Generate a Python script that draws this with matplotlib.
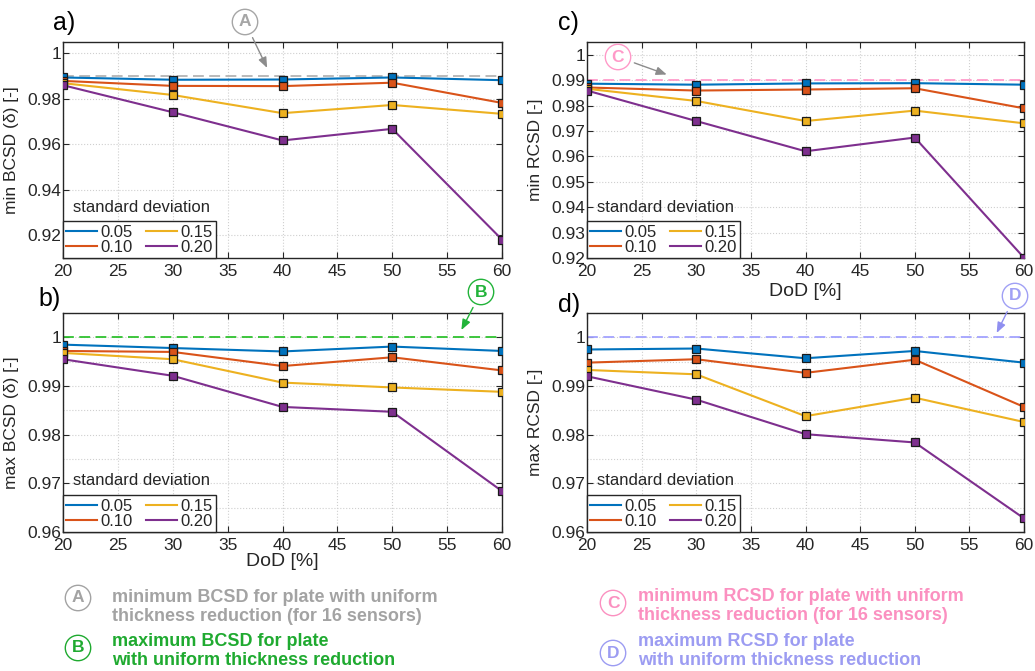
import matplotlib
matplotlib.use('Agg')
import matplotlib.pyplot as plt
from matplotlib.ticker import MultipleLocator, FuncFormatter
from matplotlib.lines import Line2D

plt.rcParams['font.family'] = ['Liberation Sans', 'DejaVu Sans']

# DoD [%]
dod = [20, 30, 40, 50, 60]
sd_labels = ['0.05', '0.10', '0.15', '0.20']
sd_colors = ['#0072BD', '#D95319', '#EDB120', '#7E2F8E']

# a) min BCSD, one row per standard deviation
min_bcsd = [
    [0.9894, 0.9884, 0.9885, 0.9894, 0.9882],
    [0.9879, 0.9857, 0.9856, 0.9871, 0.9782],
    [0.9869, 0.9817, 0.9737, 0.9773, 0.9734],
    [0.9860, 0.9741, 0.9617, 0.9668, 0.9181],
]
# b) max BCSD
max_bcsd = [
    [0.9985, 0.9978, 0.9971, 0.9981, 0.9972],
    [0.9972, 0.9970, 0.9941, 0.9959, 0.9932],
    [0.9968, 0.9955, 0.9907, 0.9897, 0.9888],
    [0.9955, 0.9921, 0.9857, 0.9847, 0.9684],
]
# c) min RCSD
min_rcsd = [
    [0.9886, 0.9882, 0.9887, 0.9888, 0.9882],
    [0.9871, 0.9859, 0.9863, 0.9868, 0.9789],
    [0.9866, 0.9818, 0.9739, 0.9780, 0.9730],
    [0.9859, 0.9739, 0.9620, 0.9674, 0.9201],
]
# d) max RCSD
max_rcsd = [
    [0.9975, 0.9977, 0.9957, 0.9972, 0.9948],
    [0.9948, 0.9955, 0.9927, 0.9954, 0.9857],
    [0.9933, 0.9924, 0.9838, 0.9876, 0.9826],
    [0.9920, 0.9872, 0.9801, 0.9784, 0.9628],
]

# plate with uniform thickness reduction
uniform_min_bcsd = 0.99
uniform_max_bcsd = 1.0
uniform_min_rcsd = 0.99
uniform_max_rcsd = 1.0

W, H = 1035, 671
fig = plt.figure(figsize=(W / 100, H / 100), dpi=100)


def fx(px):
    return px / W


def fy(py):
    return 1 - py / H


def rect(left, top, right, bottom):
    return [fx(left), fy(bottom), fx(right) - fx(left), fy(top) - fy(bottom)]


ax_a = fig.add_axes(rect(63, 42, 502, 258))
ax_c = fig.add_axes(rect(587, 42, 1024, 258))
ax_b = fig.add_axes(rect(63, 313, 502, 532))
ax_d = fig.add_axes(rect(587, 313, 1024, 532))

edge = '#262626'
fmt = FuncFormatter(lambda v, pos: f'{v:g}')


def draw_panel(ax, values, ref, ref_color, ylim, ystep, ylabel, minor=None):
    ax.axhline(ref, color=ref_color, ls=(0, (6, 3)), lw=1.3, zorder=1)
    for vals, lab, col in zip(values, sd_labels, sd_colors):
        ax.plot(dod, vals, color=col, lw=1.5, marker='s', ms=6.3,
                mfc=col, mec='#1a1a1a', mew=0.9, label=lab, zorder=3)
    ax.set_xlim(20, 60)
    ax.set_ylim(*ylim)
    ax.xaxis.set_major_locator(MultipleLocator(5))
    ax.yaxis.set_major_locator(MultipleLocator(ystep))
    ax.yaxis.set_major_formatter(fmt)
    if minor:
        ax.yaxis.set_minor_locator(MultipleLocator(minor))
        ax.grid(True, which='minor', axis='y', color='#cfcfcf', ls=':', lw=0.8)
    ax.grid(True, which='major', color='#cfcfcf', ls=':', lw=0.8)
    ax.set_axisbelow(True)
    ax.tick_params(which='major', direction='in', top=True, right=True,
                   length=4, width=0.8, color=edge, labelsize=12.5,
                   labelcolor=edge)
    ax.tick_params(axis='y', pad=1.5)
    ax.tick_params(axis='x', pad=4)
    ax.tick_params(which='minor', length=0)
    for s in ax.spines.values():
        s.set_color(edge)
        s.set_linewidth(1.0)
    ax.set_ylabel(ylabel, fontsize=12.5, color=edge)
    ax.yaxis.set_label_coords(-0.100, 0.5)

    handles = [Line2D([], [], color=c, lw=1.5) for c in sd_colors]
    leg = ax.legend(handles, sd_labels, ncol=2, loc='lower left',
                    bbox_to_anchor=(0, 0), borderaxespad=0, fontsize=12,
                    frameon=True, fancybox=False, edgecolor=edge,
                    framealpha=1, handlelength=1.85, handletextpad=0.2,
                    columnspacing=0.8, labelspacing=0.0, borderpad=0.2)
    leg.get_frame().set_linewidth(1.0)
    for t in leg.get_texts():
        t.set_color(edge)
    leg.set_zorder(5)
    ax.text(0.022, 0.2, 'standard deviation', transform=ax.transAxes,
            fontsize=12, color=edge, ha='left', va='bottom', zorder=6)


draw_panel(ax_a, min_bcsd, uniform_min_bcsd, '#b4b4b4', (0.91, 1.005), 0.02,
           'min BCSD (\u03b4) [-]')
draw_panel(ax_b, max_bcsd, uniform_max_bcsd, '#2fc22f', (0.96, 1.005), 0.01,
           'max BCSD (\u03b4) [-]', minor=0.005)
draw_panel(ax_c, min_rcsd, uniform_min_rcsd, '#ff9ccb', (0.92, 1.005), 0.01,
           'min RCSD [-]')
draw_panel(ax_d, max_rcsd, uniform_max_rcsd, '#a3a3ff', (0.96, 1.005), 0.01,
           'max RCSD [-]', minor=0.005)

ax_b.set_xlabel('DoD [%]', fontsize=14, color=edge, va='top')
ax_b.xaxis.set_label_coords(0.5, -0.095)
ax_c.set_xlabel('DoD [%]', fontsize=14, color=edge, va='top')
ax_c.xaxis.set_label_coords(0.5, -0.115)

# panel letters
for lab, px, py in [('a)', 53, 23), ('c)', 558, 23), ('b)', 38, 299), ('d)', 558, 305)]:
    fig.text(fx(px), fy(py), lab, fontsize=18, color='black', ha='left', va='center')


# circled markers with arrows
def circled(ax, letter, xy, txy, color, arrow_color):
    ax.annotate(letter, xy=xy, xycoords='data',
                xytext=(fx(txy[0]), fy(txy[1])), textcoords='figure fraction',
                ha='center', va='center', fontsize=12.5, fontweight='bold',
                color=color,
                bbox=dict(boxstyle='circle,pad=0.3', fc='white', ec=color, lw=1.0),
                arrowprops=dict(arrowstyle='-|>,head_length=0.5,head_width=0.2',
                                color=arrow_color, lw=1.0, shrinkA=3, shrinkB=0),
                annotation_clip=False, zorder=7)


circled(ax_a, 'A', (38.6, 0.9936), (245, 22), '#a6a6a6', '#8c8c8c')
circled(ax_b, 'B', (56.3, 1.0015), (481, 292), '#22b33a', '#22b33a')
circled(ax_c, 'C', (27.3, 0.9922), (618, 57), '#ff99c8', '#8c8c8c')
circled(ax_d, 'D', (57.5, 1.0009), (1015, 296), '#a0a0f5', '#8f8ff0')

# notes below the plots
notes = [
    ('A', 'minimum BCSD for plate with uniform\nthickness reduction (for 16 sensors)', 78, 598, 112, 607, '#a3a3a3'),
    ('B', 'maximum BCSD for plate\nwith uniform thickness reduction', 78, 648, 112, 651, '#1faa30'),
    ('C', 'minimum RCSD for plate with uniform\nthickness reduction (for 16 sensors)', 613, 603, 638, 606, '#fb90c0'),
    ('D', 'maximum RCSD for plate\nwith uniform thickness reduction', 613, 653, 638, 651, '#9c9cf2'),
]
for letter, txt, cx, cy, tx, ty, col in notes:
    fig.text(fx(cx), fy(cy), letter, ha='center', va='center', fontsize=12.5,
             fontweight='bold', color=col,
             bbox=dict(boxstyle='circle,pad=0.3', fc='white', ec=col, lw=1.0))
    fig.text(fx(tx), fy(ty), txt, ha='left', va='center', fontsize=13,
             fontweight='bold', color=col, linespacing=1.12)

fig.savefig('out.png', dpi=100)
